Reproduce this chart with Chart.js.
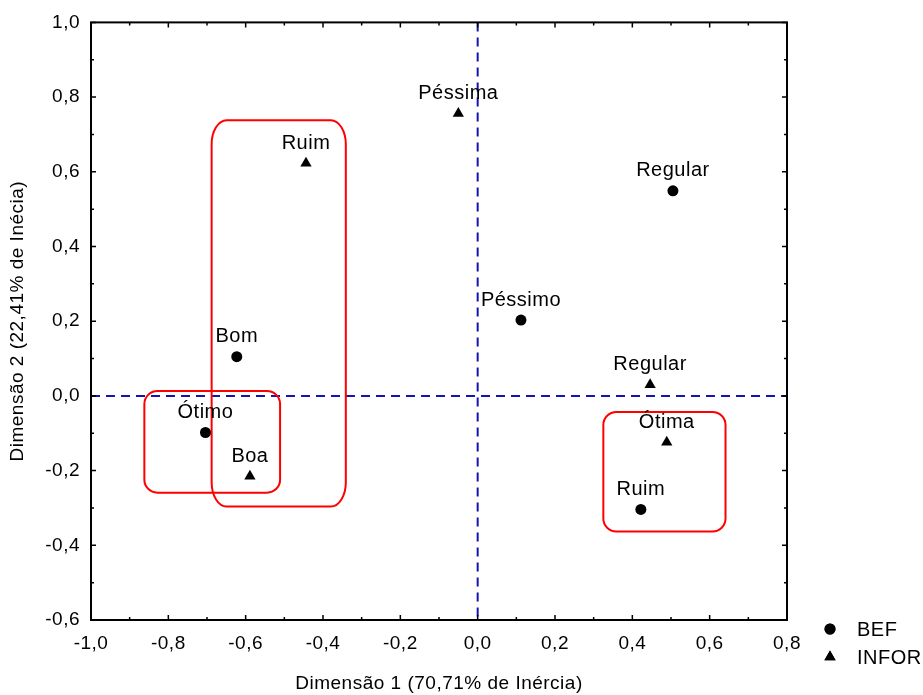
<!DOCTYPE html>
<html>
<head>
<meta charset="utf-8">
<script src="https://cdn.jsdelivr.net/npm/chart.js@4/dist/chart.umd.min.js"></script>
<style>
  html, body { margin: 0; padding: 0; background: #fff; }
  canvas { display: block; }
</style>
</head>
<body>
<canvas id="c" width="923" height="695" style="width:923px;height:695px"></canvas>
<script>
// BEF categories (circles)
const befLabels = ['Bom', 'Ótimo', 'Péssimo', 'Regular', 'Ruim'];
const befX = [-0.623, -0.704, 0.112, 0.505, 0.422];
const befY = [0.105, -0.098, 0.203, 0.549, -0.304];

// INFOR categories (triangles)
const inforLabels = ['Boa', 'Ótima', 'Péssima', 'Regular', 'Ruim'];
const inforX = [-0.589, 0.489, -0.050, 0.446, -0.444];
const inforY = [-0.215, -0.124, 0.756, 0.030, 0.623];

// axis tick values
const xTicks = [-1.0, -0.8, -0.6, -0.4, -0.2, 0.0, 0.2, 0.4, 0.6, 0.8];
const yTicks = [-0.6, -0.4, -0.2, 0.0, 0.2, 0.4, 0.6, 0.8, 1.0];

// grouping outlines in data units: [xLeft, xRight, yTop, yBottom]
const groupBoxes = [
  [-0.688, -0.341, 0.738, -0.296],
  [-0.862, -0.511, 0.013, -0.259],
  [0.325, 0.641, -0.043, -0.363]
];

const FONT = '"Liberation Sans", Arial, sans-serif';
const SPACING = '0.5px';

function fmt(v) {
  let r = Math.round(v * 10) / 10;
  if (Math.abs(r) < 1e-9) r = 0;
  return r.toFixed(1).replace('.', ',');
}

function toPoints(xs, ys) {
  return xs.map((x, i) => ({ x: x, y: ys[i] }));
}

function roundedBox(ctx, x1, y1, x2, y2, rx, ry) {
  ctx.beginPath();
  ctx.moveTo(x1 + rx, y1);
  ctx.lineTo(x2 - rx, y1);
  ctx.ellipse(x2 - rx, y1 + ry, rx, ry, 0, -Math.PI / 2, 0);
  ctx.lineTo(x2, y2 - ry);
  ctx.ellipse(x2 - rx, y2 - ry, rx, ry, 0, 0, Math.PI / 2);
  ctx.lineTo(x1 + rx, y2);
  ctx.ellipse(x1 + rx, y2 - ry, rx, ry, 0, Math.PI / 2, Math.PI);
  ctx.lineTo(x1, y1 + ry);
  ctx.ellipse(x1 + rx, y1 + ry, rx, ry, 0, Math.PI, Math.PI * 1.5);
  ctx.closePath();
  ctx.stroke();
}

const spacingPlugin = {
  id: 'spacing',
  beforeLayout(chart) { chart.ctx.letterSpacing = SPACING; },
  beforeDraw(chart) { chart.ctx.letterSpacing = SPACING; }
};

const decorPlugin = {
  id: 'decor',
  beforeDatasetsDraw(chart) {
    const { ctx, chartArea: a, scales: { x, y } } = chart;
    ctx.save();
    // zero reference lines
    ctx.strokeStyle = '#1414b4';
    ctx.lineWidth = 2;
    ctx.setLineDash([9, 6]);
    const x0 = x.getPixelForValue(0), y0 = y.getPixelForValue(0);
    ctx.beginPath();
    ctx.moveTo(x0, a.top); ctx.lineTo(x0, a.bottom);
    ctx.moveTo(a.left, y0); ctx.lineTo(a.right, y0);
    ctx.stroke();
    ctx.setLineDash([]);
    // group outlines
    ctx.strokeStyle = '#ff0000';
    ctx.lineWidth = 2;
    groupBoxes.forEach((b, i) => {
      const px1 = x.getPixelForValue(b[0]), px2 = x.getPixelForValue(b[1]);
      const py1 = y.getPixelForValue(b[2]), py2 = y.getPixelForValue(b[3]);
      const rx = i === 0 ? 15 : 13;
      const ry = i === 0 ? 24 : 13;
      roundedBox(ctx, px1, py1, px2, py2, rx, ry);
    });
    ctx.restore();
  },
  afterDatasetsDraw(chart) {
    const { ctx, chartArea: a, scales: { x, y } } = chart;
    ctx.save();
    ctx.letterSpacing = SPACING;
    // point labels
    ctx.fillStyle = '#000';
    ctx.font = '20px ' + FONT;
    ctx.textAlign = 'center';
    ctx.textBaseline = 'middle';
    const names = [befLabels, inforLabels];
    chart.data.datasets.forEach((ds, di) => {
      const meta = chart.getDatasetMeta(di);
      meta.data.forEach((pt, i) => {
        ctx.fillText(names[di][i], pt.x, pt.y - 20);
      });
    });
    // frame
    ctx.strokeStyle = '#000';
    ctx.lineWidth = 2;
    ctx.strokeRect(a.left, a.top, a.right - a.left, a.bottom - a.top);
    // inward tick marks on all four sides
    ctx.lineWidth = 1.5;
    ctx.beginPath();
    for (let i = -10; i <= 8; i++) {
      const px = x.getPixelForValue(i / 10);
      const len = i % 2 === 0 ? 5 : 3;
      ctx.moveTo(px, a.bottom); ctx.lineTo(px, a.bottom - len);
      ctx.moveTo(px, a.top); ctx.lineTo(px, a.top + len);
    }
    for (let i = -6; i <= 10; i++) {
      const py = y.getPixelForValue(i / 10);
      const len = i % 2 === 0 ? 5 : 3;
      ctx.moveTo(a.left, py); ctx.lineTo(a.left + len, py);
      ctx.moveTo(a.right, py); ctx.lineTo(a.right - len, py);
    }
    ctx.stroke();
    // legend
    ctx.font = '20px ' + FONT;
    ctx.textAlign = 'left';
    chart.data.datasets.forEach((ds, di) => {
      const cy = 629 + di * 28;
      Chart.helpers.drawPoint(ctx, {
        pointStyle: ds.pointStyle, radius: ds.pointRadius, borderWidth: 0
      }, 830, cy);
      ctx.fillStyle = '#000';
      ctx.fill();
      ctx.fillText(ds.label, 857, cy + 1);
    });
    ctx.restore();
  }
};

new Chart(document.getElementById('c'), {
  type: 'scatter',
  data: {
    datasets: [
      {
        label: 'BEF',
        data: toPoints(befX, befY),
        pointStyle: 'circle',
        pointRadius: 5.5,
        backgroundColor: '#000',
        borderColor: '#000',
        borderWidth: 0
      },
      {
        label: 'INFOR',
        data: toPoints(inforX, inforY),
        pointStyle: 'triangle',
        pointRadius: 6.5,
        backgroundColor: '#000',
        borderColor: '#000',
        borderWidth: 0
      }
    ]
  },
  options: {
    responsive: false,
    animation: false,
    events: [],
    layout: { padding: { top: 20, right: 136, left: 0, bottom: 0 } },
    plugins: { legend: { display: false }, tooltip: { enabled: false } },
    scales: {
      x: {
        type: 'linear',
        min: -1.0,
        max: 0.8,
        afterBuildTicks: s => { s.ticks = xTicks.map(v => ({ value: v })); },
        afterFit: s => { s.height = 75; },
        grid: { display: false, drawTicks: false },
        border: { display: false },
        ticks: {
          color: '#000',
          font: { family: FONT, size: 19 },
          padding: 12,
          maxRotation: 0,
          autoSkip: false,
          callback: v => fmt(v)
        },
        title: {
          display: true,
          text: 'Dimensão 1 (70,71% de Inércia)',
          color: '#000',
          font: { family: FONT, size: 19 },
          padding: { top: 0, bottom: 0 }
        }
      },
      y: {
        type: 'linear',
        min: -0.6,
        max: 1.0,
        afterBuildTicks: s => { s.ticks = yTicks.map(v => ({ value: v })); },
        afterFit: s => { s.width = 91; },
        grid: { display: false, drawTicks: false },
        border: { display: false },
        ticks: {
          color: '#000',
          font: { family: FONT, size: 19 },
          padding: 11,
          autoSkip: false,
          callback: v => fmt(v)
        },
        title: {
          display: true,
          text: 'Dimensão 2 (22,41% de Inécia)',
          color: '#000',
          font: { family: FONT, size: 19 },
          padding: { top: 6, bottom: 0 }
        }
      }
    }
  },
  plugins: [spacingPlugin, decorPlugin]
});
</script>
</body>
</html>
